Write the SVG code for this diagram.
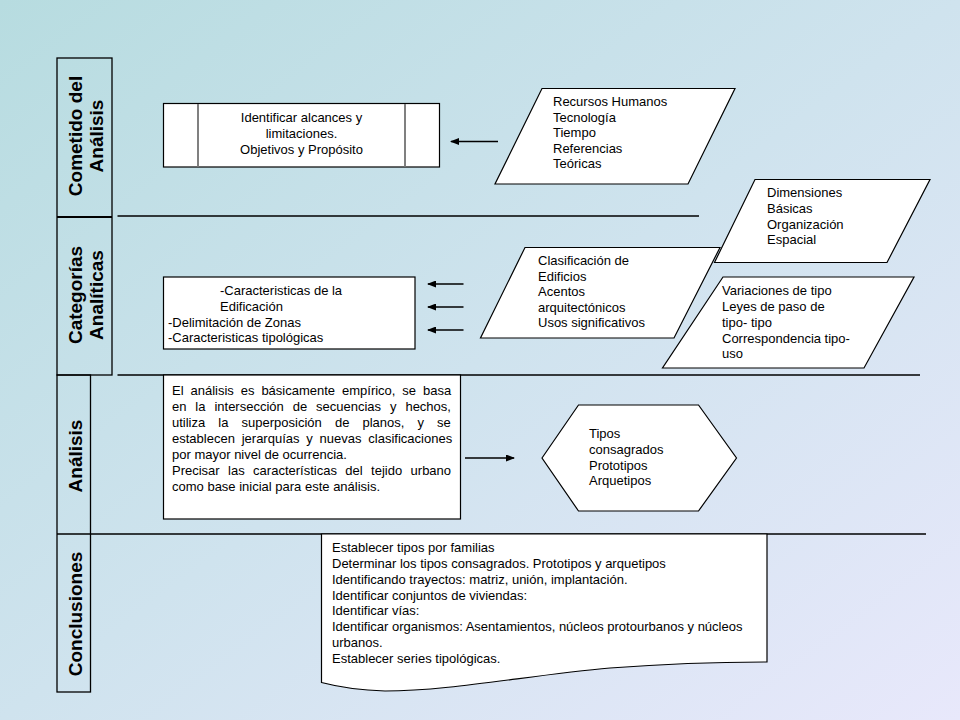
<svg xmlns="http://www.w3.org/2000/svg" width="960" height="720" viewBox="0 0 960 720">
<defs>
<linearGradient id="bg" x1="0" y1="0" x2="1" y2="1">
<stop offset="0" stop-color="#b7dce0"/>
<stop offset="0.5" stop-color="#cfe3ee"/>
<stop offset="1" stop-color="#e8e8fb"/>
</linearGradient>
<marker id="ah" markerWidth="9" markerHeight="7" refX="8" refY="3.5" orient="auto" markerUnits="userSpaceOnUse">
<path d="M0,0 L9,3.5 L0,7 Z" fill="#000"/>
</marker>
<style>
.sh{fill:#fff;stroke:#000;stroke-width:1.2}
.t{font-family:"Liberation Sans",Arial,sans-serif;font-size:13px;fill:#000}
.lbl{font-family:"Liberation Sans",Arial,sans-serif;font-size:19px;font-weight:bold;fill:#000;text-anchor:middle}
.ln{stroke:#000;stroke-width:1.3;fill:none}
.ar{stroke:#000;stroke-width:1.3;fill:none;marker-end:url(#ah)}
</style>
</defs>
<rect x="0" y="0" width="960" height="720" fill="url(#bg)"/>

<g id="lanes">
<rect x="57" y="58" width="55" height="317" fill="none" stroke="#000" stroke-width="1.3"/>
<line x1="57" y1="217" x2="112" y2="217" stroke="#000" stroke-width="2.2"/>
<rect x="57" y="375" width="33.5" height="317" fill="none" stroke="#000" stroke-width="1.3"/>
<line class="ln" x1="57" y1="534" x2="90.5" y2="534"/>
<line class="ln" x1="117.5" y1="216" x2="699" y2="216"/>
<line class="ln" x1="117.5" y1="375" x2="920" y2="375"/>
<line class="ln" x1="90.5" y1="534" x2="926" y2="534"/>
</g>

<g id="label-cometido">
<text class="lbl" transform="translate(82,136) rotate(-90)">Cometido del</text>
<text class="lbl" transform="translate(103,136) rotate(-90)">Análisis</text>
</g>
<g id="label-categorias">
<text class="lbl" transform="translate(82,295) rotate(-90)">Categorías</text>
<text class="lbl" transform="translate(103,295) rotate(-90)">Analíticas</text>
</g>
<g id="label-analisis">
<text class="lbl" transform="translate(82,456) rotate(-90)">Análisis</text>
</g>
<g id="label-conclusiones">
<text class="lbl" transform="translate(82,614) rotate(-90)">Conclusiones</text>
</g>

<g id="node-objetivos">
<rect class="sh" x="163.5" y="103.5" width="276" height="63.5"/>
<line x1="198" y1="104" x2="198" y2="166.5" stroke="#808080" stroke-width="2"/>
<line x1="405" y1="104" x2="405" y2="166.5" stroke="#808080" stroke-width="2"/>
<text class="t" text-anchor="middle" x="301.5" y="122">Identificar alcances y</text>
<text class="t" text-anchor="middle" x="301.5" y="138">limitaciones.</text>
<text class="t" text-anchor="middle" x="301.5" y="154">Objetivos y Propósito</text>
</g>

<g id="node-recursos">
<polygon class="sh" points="542,88.5 735,88.5 688,184 495,184"/>
<text class="t" x="553" y="106">Recursos Humanos</text>
<text class="t" x="553" y="121.5">Tecnología</text>
<text class="t" x="553" y="137">Tiempo</text>
<text class="t" x="553" y="152.5">Referencias</text>
<text class="t" x="553" y="168">Teóricas</text>
</g>

<g id="node-dimensiones">
<polygon class="sh" points="755,179.5 930,179.5 887,262.5 714.5,262.5"/>
<text class="t" x="767" y="197">Dimensiones</text>
<text class="t" x="767" y="213">Básicas</text>
<text class="t" x="767" y="228.5">Organización</text>
<text class="t" x="767" y="244">Espacial</text>
</g>

<g id="node-clasificacion">
<polygon class="sh" points="525,247.5 720,247.5 674,338 480.5,338"/>
<text class="t" x="538" y="265">Clasificación de</text>
<text class="t" x="538" y="280.5">Edificios</text>
<text class="t" x="538" y="296">Acentos</text>
<text class="t" x="538" y="311.5">arquitectónicos</text>
<text class="t" x="538" y="327">Usos significativos</text>
</g>

<g id="node-variaciones">
<polygon class="sh" points="723,277 914,277 864,368 662.5,368"/>
<text class="t" x="722" y="295">Variaciones de tipo</text>
<text class="t" x="722" y="311">Leyes de paso de</text>
<text class="t" x="722" y="327">tipo- tipo</text>
<text class="t" x="722" y="342.5">Correspondencia tipo-</text>
<text class="t" x="722" y="358">uso</text>
</g>

<g id="node-caracteristicas">
<rect class="sh" x="163.5" y="277" width="251.5" height="72"/>
<text class="t" x="220" y="295">-Caracteristicas de la</text>
<text class="t" x="220" y="311">Edificación</text>
<text class="t" x="168" y="326.5">-Delimitación de Zonas</text>
<text class="t" x="168" y="342">-Caracteristicas tipológicas</text>
</g>

<g id="node-analisis">
<rect class="sh" x="163.5" y="375" width="297" height="144"/>
<text class="t" x="172" y="395" word-spacing="3.3">El análisis es básicamente empírico, se basa</text>
<text class="t" x="172" y="411" word-spacing="5.3">en la intersección de secuencias y hechos,</text>
<text class="t" x="172" y="427" word-spacing="9.5">utiliza la superposición de planos, y se</text>
<text class="t" x="172" y="443" word-spacing="3.2">establecen jerarquías y nuevas clasificaciones</text>
<text class="t" x="172" y="459">por mayor nivel de ocurrencia.</text>
<text class="t" x="172" y="475" word-spacing="4.8">Precisar las características del tejido urbano</text>
<text class="t" x="172" y="491">como base inicial para este análisis.</text>
</g>

<g id="node-tipos">
<polygon class="sh" points="542,458 578.5,405 698.5,405 736.5,458 698.5,511 578.5,511"/>
<text class="t" x="589" y="438">Tipos</text>
<text class="t" x="589" y="454">consagrados</text>
<text class="t" x="589" y="469.5">Prototipos</text>
<text class="t" x="589" y="485">Arquetipos</text>
</g>

<g id="node-conclusiones">
<path class="sh" d="M321.5,534 H767 V662 C740,662 690,662 610,668 C530,675 450,691 385,691 Q350,690 321.5,682.5 Z"/>
<text class="t" x="332" y="552">Establecer tipos por familias</text>
<text class="t" x="332" y="568">Determinar los tipos consagrados. Prototipos y arquetipos</text>
<text class="t" x="332" y="584">Identificando trayectos: matriz, unión, implantación.</text>
<text class="t" x="332" y="599.5">Identificar conjuntos de viviendas:</text>
<text class="t" x="332" y="615">Identificar vías:</text>
<text class="t" x="332" y="631">Identificar organismos: Asentamientos, núcleos protourbanos y núcleos</text>
<text class="t" x="332" y="647">urbanos.</text>
<text class="t" x="332" y="662.5">Establecer series tipológicas.</text>
</g>

<g id="connectors">
<line class="ar" x1="498" y1="141.5" x2="451" y2="141.5"/>
<line class="ar" x1="463.5" y1="284" x2="428" y2="284"/>
<line class="ar" x1="463.5" y1="307" x2="428" y2="307"/>
<line class="ar" x1="463.5" y1="330" x2="428" y2="330"/>
<line class="ar" x1="465" y1="458" x2="514" y2="458"/>
</g>
</svg>
